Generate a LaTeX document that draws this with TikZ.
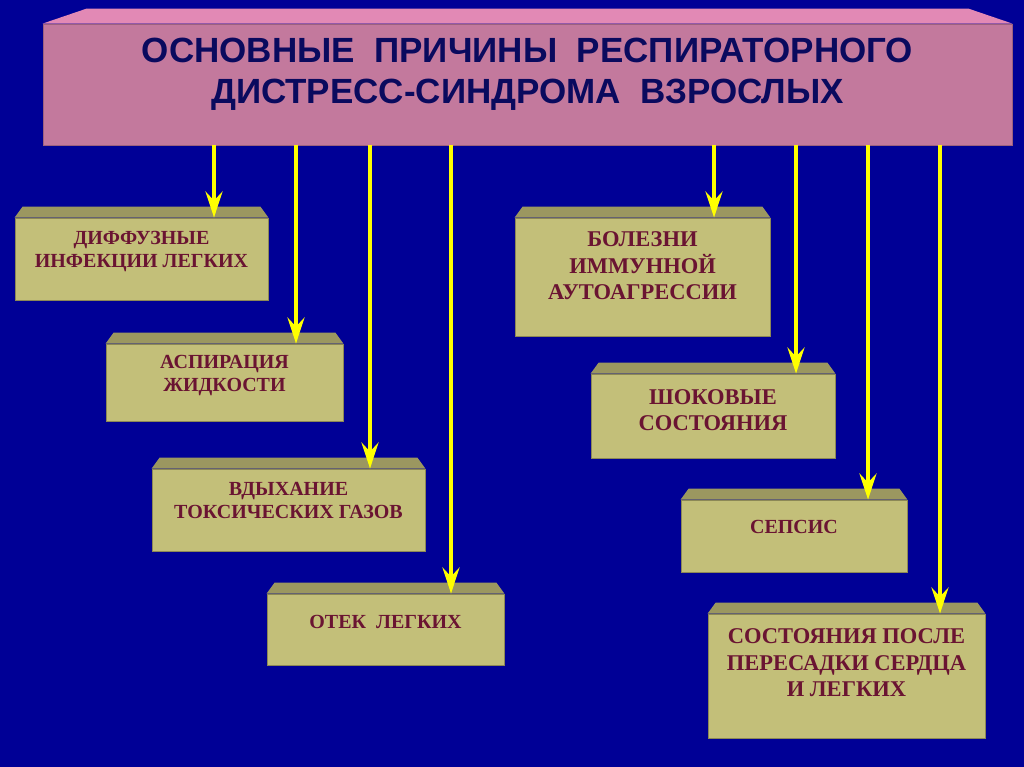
\documentclass[tikz,border=0pt]{standalone}
\usepackage{fontspec}
\setmainfont{Liberation Serif}
\newfontfamily\headfont{Liberation Sans}
\usepackage{tikz}
\usetikzlibrary{positioning}
\usetikzlibrary{arrows.meta}
\usepackage{xcolor}
\definecolor{deepblue}{RGB}{0,0,150}
\definecolor{khaki}{RGB}{195,191,121}
\definecolor{khakilid}{RGB}{155,151,96}
\definecolor{khakiedge}{RGB}{140,136,86}
\definecolor{rose}{RGB}{195,121,157}
\definecolor{roselid}{RGB}{226,137,181}
\definecolor{navyink}{RGB}{10,10,94}
\definecolor{wine}{RGB}{106,20,50}
\definecolor{lemon}{RGB}{255,255,0}
\tikzset{
  slab/.style={fill=khaki, draw=khakiedge, line width=0.8pt, inner sep=0pt},
  banner/.style={fill=rose, draw=rose!80!black, line width=0.8pt, inner sep=0pt},
  caption/.style={text=wine, align=center, font=\bfseries\fontsize{20}{23.5}\selectfont},
  bigcaption/.style={caption, font=\bfseries\fontsize{22.5}{26.5}\selectfont},
  feed/.style={draw=lemon, line width=4pt, -{Stealth[length=26pt,width=17pt,inset=9pt]}}
}
\newcommand{\lid}[4]{\fill[#4] (#1.north west) -- ++(#2,-#3) -- ([shift={(-#2,-#3)}]#1.north east) -- (#1.north east) -- cycle;}

\begin{document}
\begin{tikzpicture}[x=1pt,y=-1pt]
  \fill[deepblue] (0,0) rectangle (1024,767);
  \node[banner, minimum width=969pt, minimum height=121pt] (head) at (527.5,84.5) {};
  \lid{head}{44}{15}{roselid}
  \node[text=navyink, align=center, font=\headfont\bfseries\fontsize{35}{41.5}\selectfont] (title) at ([yshift=10pt]head.center)
    {ОСНОВНЫЕ\ \ ПРИЧИНЫ\ \ РЕСПИРАТОРНОГО\\ДИСТРЕСС-СИНДРОМА\ \ ВЗРОСЛЫХ};

  \node[slab, minimum width=253pt, minimum height=82pt] (infect) at (141.5,259) {};
  \node[slab, minimum width=237pt, minimum height=77pt] (aspir) at (224.5,382.5) {};
  \node[slab, minimum width=273pt, minimum height=82pt] (toxic) at (288.5,510) {};
  \node[slab, minimum width=237pt, minimum height=71pt] (edema) at (385.5,629.5) {};
  \node[slab, minimum width=255pt, minimum height=118pt] (immune) at (642.5,277) {};
  \node[slab, minimum width=244pt, minimum height=84pt] (shock) at (713,416) {};
  \node[slab, minimum width=226pt, minimum height=72pt] (sepsis) at (794,536) {};
  \node[slab, minimum width=277pt, minimum height=124pt] (transpl) at (846.5,676) {};
  \foreach \b in {infect,aspir,toxic,edema,immune,shock,sepsis,transpl}
    {\lid{\b}{8}{11}{khakilid}}

  \node[caption] (infect-t) at ([yshift=7.5pt]infect.center) {ДИФФУЗНЫЕ\\ИНФЕКЦИИ ЛЕГКИХ};
  \node[caption] (aspir-t) at ([yshift=7pt]aspir.center) {АСПИРАЦИЯ\\ЖИДКОСТИ};
  \node[caption] (toxic-t) at ([yshift=9.5pt]toxic.center) {ВДЫХАНИЕ\\ТОКСИЧЕСКИХ ГАЗОВ};
  \node[caption] (edema-t) at ([yshift=7.5pt]edema.center) {ОТЕК\ \ ЛЕГКИХ};
  \node[bigcaption] (immune-t) at ([yshift=11pt]immune.center) {БОЛЕЗНИ\\ИММУННОЙ\\АУТОАГРЕССИИ};
  \node[bigcaption] (shock-t) at ([yshift=6pt]shock.center) {ШОКОВЫЕ\\СОСТОЯНИЯ};
  \node[caption] (sepsis-t) at ([yshift=9pt]sepsis.center) {СЕПСИС};
  \node[bigcaption] (transpl-t) at ([yshift=13pt]transpl.center) {СОСТОЯНИЯ ПОСЛЕ\\ПЕРЕСАДКИ СЕРДЦА\\И ЛЕГКИХ};

  \foreach \x/\b in {214/infect,296/aspir,370/toxic,451/edema,714/immune,796/shock,868/sepsis,940/transpl}
    \draw[feed] (head.south -| \x,0) -- (\b.north -| \x,0);
\end{tikzpicture}
\end{document}
